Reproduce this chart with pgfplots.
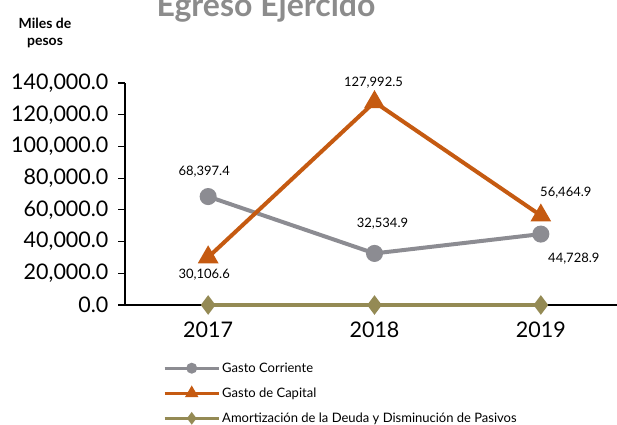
\documentclass[border=0pt]{standalone}
\usepackage{pgfplots}
\pgfplotsset{compat=1.18}
\usepackage{fontspec}
\setmainfont{Lato}
\definecolor{cgray}{RGB}{140,140,146}
\definecolor{corange}{RGB}{197,90,17}
\definecolor{colive}{RGB}{148,138,84}
\definecolor{titlegray}{RGB}{140,140,140}
\begin{document}
\begin{tikzpicture}
\begin{axis}[
  at={(125pt,-305pt)}, anchor=south west,
  scale only axis, width=499pt, height=222pt,
  xmin=2016.5, xmax=2019.5, ymin=0, ymax=140000,
  axis x line*=bottom, axis y line*=left,
  axis line style={-, black, line width=1.3pt},
  xtick={2017,2018,2019}, xticklabels={2017,2018,2019},
  major x tick style={draw=none},
  ytick={0,20000,40000,60000,80000,100000,120000,140000},
  ytick align=outside, major tick length=7pt,
  major y tick style={black, line width=1.1pt},
  scaled y ticks=false,
  /pgf/number format/assume math mode=true,
  yticklabel style={/pgf/number format/fixed, /pgf/number format/fixed zerofill, /pgf/number format/precision=1, /pgf/number format/1000 sep={,}, xshift=-6pt},
  tick label style={font=\fontsize{21.5}{25}\selectfont},
  xticklabel style={yshift=-13pt},
  clip=false,
  legend style={at={(0.0762,-0.25)}, anchor=north west, draw=none, fill=none,
    font=\fontsize{13}{15}\selectfont, row sep=10pt, inner sep=0pt,
    nodes={inner sep=2pt}},
  legend cell align=left,
  legend image code/.code={
    \draw[#1, mark options={scale=0.6}] plot coordinates {(0pt,0pt) (27pt,0pt) (54pt,0pt)};
  },
  legend image post style={mark repeat=2, mark phase=2, line width=3pt},
]
\addplot[cgray, line width=4pt, mark=*, mark size=6.5pt] coordinates {(2017,68397.4) (2018,32534.9) (2019,44728.9)};
\addlegendentry{Gasto Corriente}
\addplot[corange, line width=4pt, mark=triangle*, mark size=8pt] coordinates {(2017,30106.6) (2018,127992.5) (2019,56464.9)};
\addlegendentry{Gasto de Capital}
\addplot[colive, line width=4pt, mark=diamond*, mark size=6.5pt] coordinates {(2017,0) (2018,0) (2019,0)};
\addlegendentry{Amortización de la Deuda y Disminución de Pasivos}
\begin{scope}[every node/.style={font=\fontsize{13}{15}\selectfont, anchor=base, inner sep=0pt}]
\node[xshift=-4pt, yshift=21.5pt] at (axis cs:2017,68397.4) {68,397.4};
\node[xshift=-4pt, yshift=-21pt] at (axis cs:2017,30106.6) {30,106.6};
\node[xshift=8pt, yshift=26pt] at (axis cs:2018,32534.9) {32,534.9};
\node[xshift=-1pt, yshift=16pt] at (axis cs:2018,127992.5) {127,992.5};
\node[xshift=25pt, yshift=18.5pt] at (axis cs:2019,56464.9) {56,464.9};
\node[xshift=33pt, yshift=-28pt] at (axis cs:2019,44728.9) {44,728.9};
\end{scope}
\end{axis}
\node[anchor=base, font=\bfseries\fontsize{32}{38}\selectfont, text=titlegray] at (266pt,-16.5pt) {Egreso Ejercido};
\node[anchor=base, font=\bfseries\fontsize{14}{16}\selectfont] at (45pt,-28pt) {Miles de};
\node[anchor=base, font=\bfseries\fontsize{14}{16}\selectfont] at (45pt,-45pt) {pesos};
\pgfresetboundingbox
\useasboundingbox (0pt,0pt) rectangle (617pt,-424pt);
\end{tikzpicture}
\end{document}
